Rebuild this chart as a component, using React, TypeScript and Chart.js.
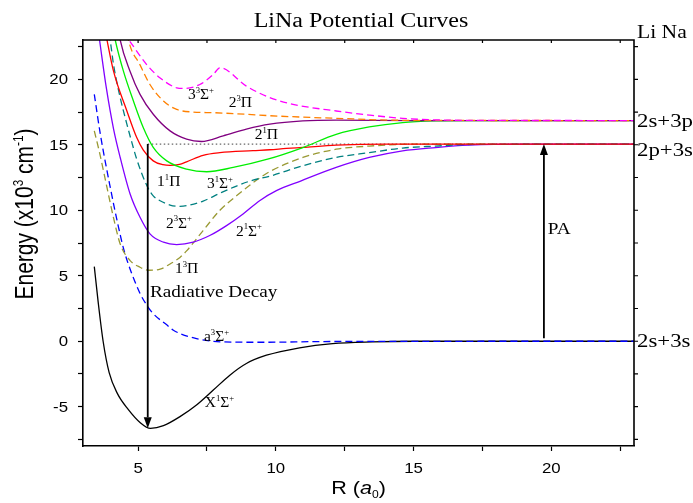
import React, { useEffect, useRef } from "react";
import { Chart, registerables } from "chart.js";

Chart.register(...registerables);

// LiNa potential energy curves: internuclear distance R (bohr) vs energy (10^3 cm^-1)
const X1S_R = [3.41, 3.55, 3.73, 3.95, 4.25, 4.64, 5.07, 5.45, 5.92, 6.52, 7.12, 7.73, 8.33, 8.93, 9.66, 10.86, 12.06, 13.5, 15, 17, 23];
const X1S_E = [5.7, 3.0, 0.0, -2.4, -4.0, -5.2, -6.2, -6.65, -6.45, -5.76, -4.87, -3.73, -2.59, -1.7, -1.07, -0.5, -0.18, -0.05, 0, 0, 0];

const A3S_R = [3.41, 3.63, 3.99, 4.29, 4.49, 5.07, 5.32, 5.55, 6.04, 6.28, 7.12, 8.08, 9.5, 12, 23];
const A3S_E = [18.85, 15.8, 11.74, 8.7, 6.93, 3.65, 2.74, 2.1, 1.25, 0.84, 0.2, -0.05, -0.08, -0.02, 0];

const B3P_R = [3.41, 3.59, 3.87, 4.1, 4.35, 4.71, 5.07, 5.4, 5.8, 6.16, 6.52, 6.76, 7.36, 7.97, 8.57, 9.17, 9.78, 10.98, 12.19, 13.39, 15, 23];
const B3P_E = [16.06, 14.5, 11.74, 9.5, 7.43, 6.16, 5.65, 5.42, 5.5, 5.9, 6.4, 6.9, 8.45, 10.0, 11.1, 12.1, 12.95, 14.03, 14.66, 14.9, 15.05, 15.05];

const A1S_R = [3.5, 3.6, 3.85, 4.11, 4.35, 4.71, 5.07, 5.43, 5.92, 6.4, 7.0, 7.6, 8.21, 8.81, 9.41, 10.02, 10.92, 12.19, 13.39, 14.6, 15.8, 17.0, 19, 23];
const A1S_E = [24.5, 23, 19.3, 16.2, 14.03, 11.24, 9.46, 8.2, 7.56, 7.38, 7.56, 8.07, 8.83, 9.72, 10.73, 11.5, 12.25, 13.27, 14.03, 14.54, 14.79, 14.97, 15.05, 15.05];

const C3S_R = [3.85, 3.99, 4.11, 4.35, 4.59, 4.77, 4.95, 5.32, 5.55, 5.8, 6.16, 6.52, 6.76, 7.36, 7.97, 8.57, 9.17, 9.78, 10.98, 12.19, 13.39, 14.6, 15.8, 17, 23];
const C3S_E = [24.3, 22.9, 21.1, 18.6, 16.6, 15.2, 13.9, 11.87, 11.1, 10.73, 10.4, 10.3, 10.35, 10.7, 11.3, 11.85, 12.3, 12.6, 13.4, 14.03, 14.4, 14.75, 14.9, 15.02, 15.05];

const R1P_R = [3.75, 3.87, 4.11, 4.59, 4.95, 5.19, 5.55, 5.9, 6.16, 6.5, 6.76, 7.36, 7.97, 9.17, 9.78, 10.38, 10.98, 12.19, 14, 23];
const R1P_E = [24.3, 23, 20.6, 17.6, 15.55, 14.6, 13.77, 13.48, 13.42, 13.5, 13.7, 14.2, 14.4, 14.55, 14.62, 14.72, 14.8, 14.97, 15.05, 15.05];

const G1S_R = [4.05, 4.17, 4.47, 4.83, 5.19, 5.55, 6.04, 6.76, 7.49, 8.45, 9.7, 10.98, 12.19, 13.39, 14.6, 15.8, 17, 23];
const G1S_E = [24.3, 23, 20.6, 18.34, 16.3, 14.8, 13.77, 13.14, 12.94, 13.27, 13.9, 14.79, 15.8, 16.36, 16.69, 16.82, 16.85, 16.85];

const P1P_R = [4.25, 4.35, 4.71, 5.07, 5.55, 6.16, 6.76, 7.3, 8.09, 8.93, 9.78, 10.98, 12.19, 15, 23];
const P1P_E = [24.3, 23, 20.6, 18.85, 17.33, 16.06, 15.43, 15.25, 15.68, 16.19, 16.57, 16.82, 16.88, 16.85, 16.85];

const O3P_R = [4.55, 4.65, 5.07, 5.43, 5.92, 6.4, 7.0, 7.73, 8.93, 9.78, 12.19, 14.6, 23];
const O3P_E = [24.3, 23, 21.1, 19.6, 18.34, 17.7, 17.5, 17.45, 17.33, 17.22, 17.02, 16.87, 16.85];

const M3S_R = [4.7, 5.32, 5.8, 6.4, 6.64, 7.24, 7.73, 7.97, 8.93, 9.78, 10.62, 12.19, 13.39, 14.6, 15.8, 18, 23];
const M3S_E = [22.9, 21.1, 20.1, 19.35, 19.3, 19.6, 20.37, 20.88, 19.48, 18.6, 18.09, 17.58, 17.27, 17.02, 16.9, 16.86, 16.85];

// Atomic asymptotes (10^3 cm^-1)
const ASYM_2S3S = 0;
const ASYM_2P3S = 15.05;
const ASYM_2S3P = 16.85;

// Transitions drawn as arrows
const DECAY_R = 5.35;
const DECAY_TO = -6.65;
const PA_R = 19.73;
const PA_FROM = 0.23;

// Tick marks every 2.5, labels on multiples of 5
const X_TICKS = [5, 7.5, 10, 12.5, 15, 17.5, 20, 22.5];
const Y_TICKS = [-7.5, -5, -2.5, 0, 2.5, 5, 7.5, 10, 12.5, 15, 17.5, 20, 22.5];
const X_LABELS = [5, 10, 15, 20];
const Y_LABELS = [-5, 0, 5, 10, 15, 20];

type Part = [string, string?];

const STATE_LABELS: { parts: Part[]; r: number; e: number; size: number; sx: number }[] = [
  { parts: [["3"], ["3", "sup"], ["Σ"], ["+", "sup"]], r: 6.81, e: 18.49, size: 15.5, sx: 1 },
  { parts: [["2"], ["3", "sup"], ["Π"]], r: 8.29, e: 17.88, size: 15.5, sx: 1 },
  { parts: [["2"], ["1", "sup"], ["Π"]], r: 9.23, e: 15.45, size: 15.5, sx: 1 },
  { parts: [["1"], ["1", "sup"], ["Π"]], r: 5.69, e: 11.87, size: 15.5, sx: 1 },
  { parts: [["3"], ["1", "sup"], ["Σ"], ["+", "sup"]], r: 7.5, e: 11.72, size: 15.5, sx: 1 },
  { parts: [["2"], ["3", "sup"], ["Σ"], ["+", "sup"]], r: 6.01, e: 8.68, size: 15.5, sx: 1 },
  { parts: [["2"], ["1", "sup"], ["Σ"], ["+", "sup"]], r: 8.55, e: 8.07, size: 15.5, sx: 1 },
  { parts: [["1"], ["3", "sup"], ["Π"]], r: 6.34, e: 5.18, size: 15.5, sx: 1 },
  { parts: [["a"], ["3", "sup"], ["Σ"], ["+", "sup"]], r: 7.39, e: 0.0, size: 15.5, sx: 1 },
  { parts: [["X"], ["1", "sup"], ["Σ"], ["+", "sup"]], r: 7.42, e: -5.02, size: 15.5, sx: 1 },
  { parts: [["Radiative Decay"]], r: 5.43, e: 3.35, size: 16, sx: 1.2 },
  { parts: [["PA"]], r: 19.87, e: 8.22, size: 16, sx: 1.2 },
];

const ASYM_LABELS: { text: string; e: number; dy: number }[] = [
  { text: "2s+3p", e: ASYM_2S3P, dy: 0 },
  { text: "2p+3s", e: ASYM_2P3S, dy: 6 },
  { text: "2s+3s", e: ASYM_2S3S, dy: 0 },
];

const SERIF = '"Liberation Serif", "Times New Roman", serif';
const SANS = '"Liberation Sans", Arial, sans-serif';
const SX = 1.2; // default horizontal glyph stretch

const pts = (r: number[], e: number[]) => r.map((v, i) => ({ x: v, y: e[i] }));

function partFont(kind: string | undefined, size: number, family: string) {
  const s = kind === "sup" || kind === "sub" ? size * 0.56 : size;
  const st = kind === "i" ? "italic " : "";
  return `${st}${s}px ${family}`;
}

function partsWidth(ctx: CanvasRenderingContext2D, parts: Part[], size: number, family: string) {
  let w = 0;
  for (const [t, k] of parts) {
    ctx.font = partFont(k, size, family);
    w += ctx.measureText(t).width;
  }
  return w;
}

function drawParts(
  ctx: CanvasRenderingContext2D,
  parts: Part[],
  x: number,
  y: number,
  size: number,
  family: string,
  align: "left" | "center" | "right" = "left",
  rotate = 0,
  sx = SX
) {
  const w = partsWidth(ctx, parts, size, family);
  const off = align === "center" ? -w / 2 : align === "right" ? -w : 0;
  ctx.save();
  ctx.translate(x, y);
  ctx.scale(sx, 1);
  if (rotate) ctx.rotate(rotate);
  ctx.fillStyle = "#000";
  ctx.textAlign = "left";
  ctx.textBaseline = "alphabetic";
  let cx = off;
  for (const [t, k] of parts) {
    ctx.font = partFont(k, size, family);
    const dy = k === "sup" ? -size * 0.4 : k === "sub" ? size * 0.22 : 0;
    ctx.fillText(t, cx, dy);
    cx += ctx.measureText(t).width;
  }
  ctx.restore();
}

function arrow(ctx: CanvasRenderingContext2D, x: number, y0: number, y1: number) {
  const dir = y1 > y0 ? 1 : -1;
  const headLen = 11;
  const headW = 4;
  ctx.save();
  ctx.strokeStyle = "#000";
  ctx.fillStyle = "#000";
  ctx.lineWidth = 1.8;
  ctx.beginPath();
  ctx.moveTo(x, y0);
  ctx.lineTo(x, y1 - dir * headLen);
  ctx.stroke();
  ctx.beginPath();
  ctx.moveTo(x, y1);
  ctx.lineTo(x - headW, y1 - dir * headLen);
  ctx.lineTo(x + headW, y1 - dir * headLen);
  ctx.closePath();
  ctx.fill();
  ctx.restore();
}

const decorPlugin = {
  id: "decor",
  beforeDatasetsDraw(chart: any) {
    const { ctx, scales } = chart;
    const x = scales.x;
    const y = scales.y;
    ctx.save();
    ctx.strokeStyle = "#666";
    ctx.lineWidth = 1.2;
    ctx.setLineDash([1.5, 2.5]);
    ctx.beginPath();
    const py = y.getPixelForValue(ASYM_2P3S);
    ctx.moveTo(x.getPixelForValue(DECAY_R), py);
    ctx.lineTo(x.getPixelForValue(23), py);
    ctx.stroke();
    ctx.restore();
  },
  afterDraw(chart: any) {
    const { ctx, chartArea: ca, scales } = chart;
    const x = scales.x;
    const y = scales.y;

    // top and right frame with mirrored ticks
    ctx.save();
    ctx.strokeStyle = "#000";
    ctx.lineWidth = 1.6;
    ctx.beginPath();
    ctx.moveTo(ca.left, ca.top);
    ctx.lineTo(ca.right, ca.top);
    ctx.lineTo(ca.right, ca.bottom);
    ctx.stroke();
    ctx.lineWidth = 1.2;
    ctx.beginPath();
    for (const t of x.ticks) {
      const px = x.getPixelForValue(t.value);
      ctx.moveTo(px, ca.top);
      ctx.lineTo(px, ca.top + 3);
    }
    for (const t of y.ticks) {
      const p = y.getPixelForValue(t.value);
      ctx.moveTo(ca.right, p);
      ctx.lineTo(ca.right + 4, p);
    }
    ctx.stroke();
    ctx.restore();

    // tick labels
    for (const t of x.ticks) {
      if (!X_LABELS.includes(t.value)) continue;
      drawParts(ctx, [[String(t.value)]], x.getPixelForValue(t.value), ca.bottom + 27, 14, SANS, "center");
    }
    for (const t of y.ticks) {
      if (!Y_LABELS.includes(t.value)) continue;
      drawParts(ctx, [[String(t.value)]], ca.left - 15, y.getPixelForValue(t.value) + 5, 14, SANS, "right");
    }

    // titles
    drawParts(ctx, [["LiNa Potential Curves"]], 361, 27, 20, SERIF, "center");
    drawParts(ctx, [["R ("], ["a", "i"], ["0", "sub"], [")"]], (ca.left + ca.right) / 2, 494, 18, SANS, "center");
    drawParts(
      ctx,
      [["Energy (x10"], ["3", "sup"], [" cm"], ["-1", "sup"], [")"]],
      33,
      214,
      21,
      SANS,
      "center",
      -Math.PI / 2
    );

    // arrows
    arrow(ctx, x.getPixelForValue(DECAY_R), y.getPixelForValue(ASYM_2P3S), y.getPixelForValue(DECAY_TO));
    arrow(ctx, x.getPixelForValue(PA_R), y.getPixelForValue(PA_FROM), y.getPixelForValue(ASYM_2P3S));

    // state labels
    for (const l of STATE_LABELS) {
      drawParts(ctx, l.parts, x.getPixelForValue(l.r), y.getPixelForValue(l.e), l.size, SERIF, "left", 0, l.sx);
    }

    // asymptote labels
    for (const a of ASYM_LABELS) {
      drawParts(ctx, [[a.text]], ca.right + 3, y.getPixelForValue(a.e) + 6 + a.dy, 19, SERIF, "left");
    }
    drawParts(ctx, [["Li Na"]], ca.right + 3, 38, 18, SERIF, "left");
  },
};

function line(label: string, r: number[], e: number[], color: string, dashed: boolean) {
  return {
    label,
    data: pts(r, e),
    borderColor: color,
    backgroundColor: color,
    borderWidth: 1.3,
    borderDash: dashed ? [7, 4] : [],
    pointRadius: 0,
    fill: false,
    cubicInterpolationMode: "monotone" as const,
    clip: 0,
  };
}

const setTicks = (values: number[]) => (s: any) => {
  s.ticks = values.map((v) => ({ value: v }));
};

export default function App() {
  const ref = useRef<HTMLCanvasElement | null>(null);

  useEffect(() => {
    if (!ref.current) return;
    const chart = new Chart(ref.current, {
      type: "line",
      data: {
        datasets: [
          line("3³Σ⁺", M3S_R, M3S_E, "#ff00ff", true),
          line("2³Π", O3P_R, O3P_E, "#ff8000", true),
          line("2¹Π", P1P_R, P1P_E, "#800080", false),
          line("3¹Σ⁺", G1S_R, G1S_E, "#00ee00", false),
          line("1¹Π", R1P_R, R1P_E, "#ff0000", false),
          line("2³Σ⁺", C3S_R, C3S_E, "#008080", true),
          line("2¹Σ⁺", A1S_R, A1S_E, "#8000ff", false),
          line("1³Π", B3P_R, B3P_E, "#999933", true),
          line("a³Σ⁺", A3S_R, A3S_E, "#0000ff", true),
          line("X¹Σ⁺", X1S_R, X1S_E, "#000000", false),
        ] as any,
      },
      options: {
        animation: false,
        responsive: false,
        maintainAspectRatio: false,
        layout: { padding: { top: 40, right: 59, left: 0, bottom: 0 } },
        plugins: {
          legend: { display: false },
          tooltip: { enabled: false },
          title: { display: false },
        },
        scales: {
          x: {
            type: "linear",
            min: 3,
            max: 23,
            afterBuildTicks: setTicks(X_TICKS),
            afterFit: (s: any) => {
              s.height = 57;
            },
            ticks: { display: false, autoSkip: false },
            grid: { drawOnChartArea: false, drawTicks: true, tickLength: 5, color: "#000", tickWidth: 1.2 },
            border: { color: "#000", width: 1.6 },
          },
          y: {
            type: "linear",
            min: -8,
            max: 23,
            afterBuildTicks: setTicks(Y_TICKS),
            afterFit: (s: any) => {
              s.width = 83;
            },
            ticks: { display: false, autoSkip: false },
            grid: { drawOnChartArea: false, drawTicks: true, tickLength: 5, color: "#000", tickWidth: 1.2 },
            border: { color: "#000", width: 1.6 },
          },
        },
      } as any,
      plugins: [decorPlugin],
    });
    return () => chart.destroy();
  }, []);

  return (
    <div style={{ position: "absolute", left: 0, top: 0, width: 693, height: 503, background: "#fff" }}>
      <canvas ref={ref} width={693} height={503} />
    </div>
  );
}
